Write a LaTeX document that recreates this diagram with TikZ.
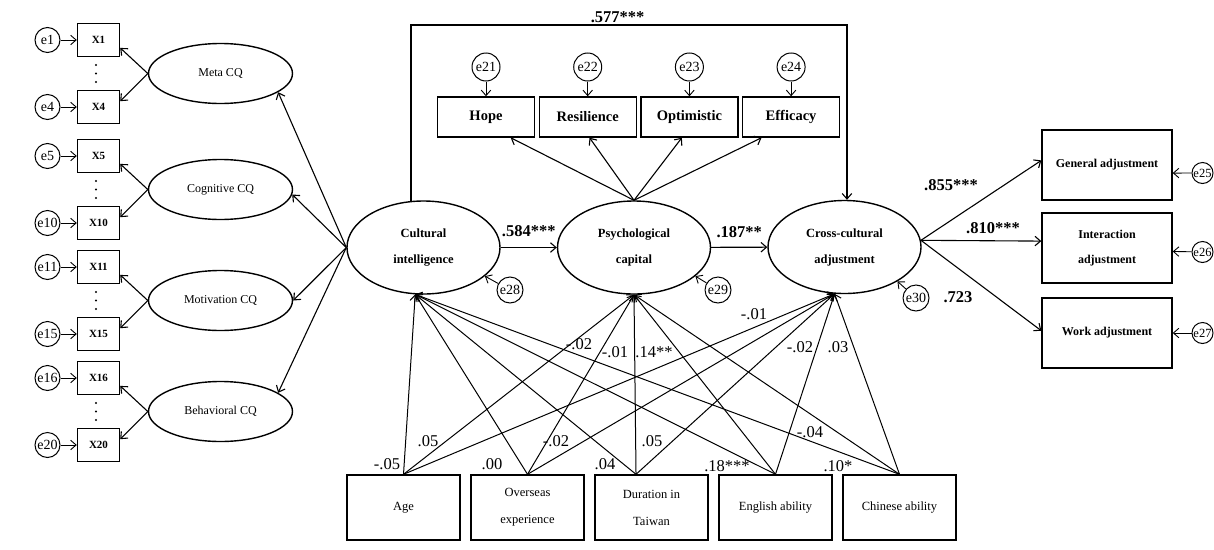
\documentclass[tikz,border=0pt]{standalone}
\usepackage{fontspec}
\setmainfont{Liberation Serif}
\usetikzlibrary{arrows.meta,shapes.geometric}

\begin{document}
\begin{tikzpicture}
  [x=1pt, y=-1pt, >={Straight Barb[length=5.5pt,width=9.5pt]},
   every node/.style={inner sep=0pt},
   obs/.style={draw, line width=1.4pt, rectangle, align=center},
   lat/.style={draw, line width=1.4pt, ellipse, align=center},
   xbox/.style={obs, minimum width=42pt, minimum height=33pt, font=\bfseries\fontsize{11}{11}\selectfont},
   cqlat/.style={lat, minimum width=144pt, minimum height=60pt, font=\fontsize{12}{12}\selectfont},
   midlat/.style={lat, minimum width=153pt, minimum height=93pt, font=\bfseries\fontsize{12.5}{26}\selectfont},
   err/.style={draw, line width=1pt, circle, minimum size=25pt, font=\fontsize{14}{14}\selectfont},
   arr/.style={->, line width=1.1pt},
   earr/.style={->, line width=0.9pt},
   coef/.style={font=\fontsize{16.5}{16.5}\selectfont},
   bcoef/.style={font=\bfseries\fontsize{16.5}{16.5}\selectfont}]
 \useasboundingbox (0,0) rectangle (1214,549);

 % structural part
 \node[midlat] (ci)  at (423.5,247.5) {Cultural\\intelligence};
 \node[midlat] (pc)  at (634,247.5)   {Psychological\\capital};
 \node[midlat] (cca) at (844.5,247)   {Cross-cultural\\adjustment};
 \draw[arr] (ci) -- node[bcoef, above=10pt] {.584***} (pc);
 \draw[arr] (pc) -- node[bcoef, above=9pt] {.187**} (cca);
 \coordinate (top) at (630,25);
 \draw[arr] (ci.105) -- (ci.105 |- top)
    -- node[bcoef, above=2pt, pos=0.474] {.577***} (cca.87 |- top) -- (cca.87);
 \foreach \e/\nm/\x/\y/\a in {28/ci/510/290/-25, 29/pc/718/290/-25, 30/cca/916/298/-33} {
   \node[err, minimum size=26pt] (e\e) at (\x,\y) {e\e};
   \draw[earr] (e\e) -- (\nm.\a);
 }

 % cultural intelligence dimensions
 \foreach \t/\b/\nm/\lab/\y/\a in {1/4/meta/Meta CQ/40/-18, 5/10/cog/Cognitive CQ/156/-4,
      11/15/mot/Motivation CQ/267/0, 16/20/beh/Behavioral CQ/378/18} {
   \node[xbox] (x\t) at (98.5,\y) {X\t};
   \node[xbox] (x\b) at (98.5,\y+67) {X\b};
   \node[err] (e\t) at (47.5,\y) {e\t};
   \node[err] (e\b) at (47.5,\y+67) {e\b};
   \node[cqlat] (\nm) at (220.5,\y+33.5) {\lab};
   \draw[earr] (e\t) -- (x\t);
   \draw[earr] (e\b) -- (x\b);
   \foreach \d in {-8.5,0,8.5}
     \fill (96,\y+33.5+\d) circle (1.1pt);
   \draw[arr] (\nm.west) -- (x\t.-20);
   \draw[arr] (\nm.west) -- (x\b.15);
   \draw[arr] (ci.west) -- (\nm.\a);
 }

 % psychological capital indicators
 \foreach \nm/\lab/\e/\a [count=\i from 0] in {hope/Hope/21/-40, resil/Resilience/22/-85,
      optim/Optimistic/23/-110, effic/Efficacy/24/-145} {
   \node[obs, minimum width=97pt, minimum height=40pt, font=\bfseries\fontsize{14.5}{14.5}\selectfont]
      (\nm) at (486+101.7*\i,117) {\lab};
   \node[err, minimum size=28pt] (e\e) at (486+101.7*\i,67) {e\e};
   \draw[earr] (e\e) -- (\nm);
   \draw[arr] (pc.north) -- (\nm.\a);
 }

 % adjustment indicators
 \foreach \nm/\lab/\y/\e/\ey/\a/\b in {gen/General adjustment/165/25/173/176/-7,
      inter/Interaction\\adjustment/248/26/252/174/-3, work/Work adjustment/333/27/333/178/0} {
   \node[obs, minimum width=130pt, minimum height=70pt, font=\bfseries\fontsize{12}{25}\selectfont]
      (\nm) at (1107,\y) {\lab};
   \node[err, minimum size=21pt, font=\fontsize{12.5}{12.5}\selectfont] (e\e) at (1202.5,\ey) {e\e};
   \draw[earr] (e\e) -- (\nm.\b);
   \draw[arr] (cca.5) -- (\nm.\a);
 }
 \foreach \x/\y/\v [count=\k] in {951/185/.855***, 993/228/.810***, 958/297/.723}
   \node[bcoef] (rc\k) at (\x,\y) {\v};

 % control variables
 \foreach \nm/\lab [count=\i from 0] in {age/Age, over/Overseas\\experience,
      dur/Duration in\\Taiwan, eng/English ability, chi/Chinese ability}
   \node[obs, minimum width=113pt, minimum height=65pt, font=\fontsize{12.5}{27}\selectfont]
      (\nm) at (403.5+124*\i,507.5) {\lab};
 \foreach \c/\ca in {age/north, over/north, dur/115, eng/north, chi/north}
   \foreach \t/\ta in {ci/260, pc/south, cca/258}
     \draw[arr, line width=1pt] (\c.\ca) -- (\t.\ta);
 \foreach \x/\y/\v [count=\k] in {387/464/-.05, 428/441/.05, 492/464/.00, 556/441/-.02,
      605/464/.04, 652/441/.05, 579/344/-.02, 615/352/-.01, 654/352/.14**, 754/314/-.01,
      800/347/-.02, 838/347/.03, 810/432/-.04, 727/466/.18***, 838/466/.10*}
   \node[coef] (cc\k) at (\x,\y) {\v};
\end{tikzpicture}
\end{document}
